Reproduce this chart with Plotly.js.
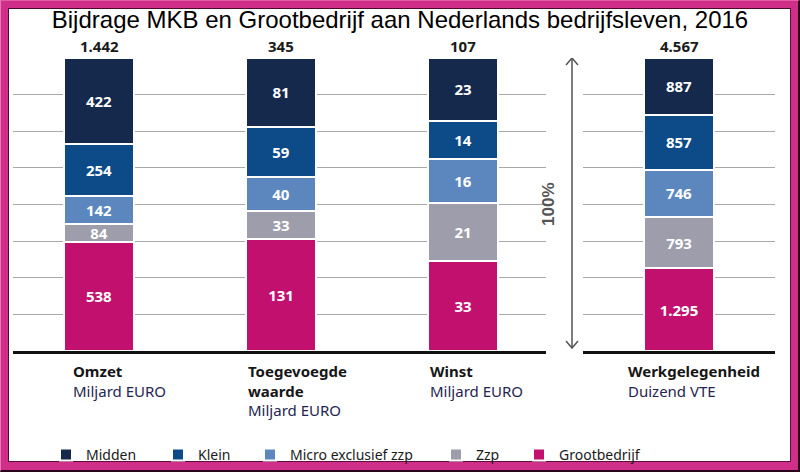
<!DOCTYPE html>
<html>
<head>
<meta charset="utf-8">
<script src="https://cdn.plot.ly/plotly-3.0.1.min.js"></script>
<style>
  html, body { margin: 0; padding: 0; width: 800px; height: 472px; overflow: hidden; background: #fff; }
  #frame { position: absolute; left: 0; top: 0; width: 800px; height: 472px; box-sizing: border-box;
    border-style: solid; border-width: 8px 9px 10px 8px; border-color: #cf2f88; background: #fff;
    box-shadow: inset 1px 1px 0 #4a0a30, inset -1px -1px 0 #5a0f3c; }
  #edge { position: absolute; left: 0; top: 0; width: 800px; height: 472px; box-sizing: border-box;
    border-left: 1px solid #e878b4; border-top: 1px solid #e35ea4;
    border-right: 2px solid #2a0418; border-bottom: 2px solid #2a0418; pointer-events: none; }
  #chart { position: absolute; left: 0; top: 0; width: 800px; height: 472px; }
</style>
</head>
<body>
<div id="frame"></div>
<div id="edge"></div>
<div id="chart"></div>
<script>
// ---- data ----
const categories = ['Omzet', 'Toegevoegde waarde', 'Winst', 'Werkgelegenheid'];
const categoryLabels = ['Omzet', 'Toegevoegde<br>waarde', 'Winst', 'Werkgelegenheid'];
const units = ['Miljard EURO', 'Miljard EURO', 'Miljard EURO', 'Duizend VTE'];
const totalLabels = ['1.442', '345', '107', '4.567'];

const seriesNames = ['Grootbedrijf', 'Zzp', 'Micro exclusief zzp', 'Klein', 'Midden'];
const grootbedrijf = [538, 131, 33, 1295];
const zzp = [84, 33, 21, 793];
const micro = [142, 40, 16, 746];
const klein = [254, 59, 14, 857];
const midden = [422, 81, 23, 887];
const seriesValues = [grootbedrijf, zzp, micro, klein, midden];

// ---- styles ----
const seriesColors = ['#c2106f', '#9d9dab', '#5b87be', '#0c4b88', '#15294d'];
const legendIds = ['legend5', 'legend4', 'legend3', 'legend2', 'legend'];
const legendLeftPx = [535, 452, 266, 174, 62];
const labelShift = [-28, -35, -35, -53];

const fmt = v => String(v).replace(/\B(?=(\d{3})+(?!\d))/g, '.');
const FONT = 'Noto Sans, Open Sans, sans-serif';

const traces = [];
seriesNames.forEach((name, i) => {
  const vals = seriesValues[i];
  const common = {
    type: 'bar',
    name: name,
    legendgroup: name,
    legend: legendIds[i],
    marker: { color: seriesColors[i], line: { color: '#ffffff', width: 2 } },
    textposition: 'inside',
    insidetextanchor: 'middle',
    textangle: 0,
    constraintext: 'none',
    textfont: { family: FONT, size: 15, color: '#ffffff', weight: 700 },
    hoverinfo: 'skip'
  };
  traces.push(Object.assign({}, common, {
    x: categories.slice(0, 3), y: vals.slice(0, 3), text: vals.slice(0, 3).map(fmt),
    xaxis: 'x', yaxis: 'y', showlegend: true
  }));
  traces.push(Object.assign({}, common, {
    x: categories.slice(3), y: vals.slice(3), text: vals.slice(3).map(fmt),
    xaxis: 'x2', yaxis: 'y', showlegend: false
  }));
});

const annotations = [];
categories.forEach((c, i) => {
  const xr = i < 3 ? 'x' : 'x2';
  annotations.push({
    xref: xr, yref: 'y', x: c, y: 100, yanchor: 'bottom', yshift: 0,
    text: '<b>' + totalLabels[i] + '</b>', showarrow: false,
    font: { family: FONT, size: 15, color: '#1a1a1a' }
  });
  annotations.push({
    xref: xr, yref: 'paper', x: c, y: -0.027, xanchor: 'left', yanchor: 'top', xshift: labelShift[i],
    align: 'left', showarrow: false,
    text: '<b>' + categoryLabels[i] + '</b><br><span style="color:#1f2550">' + units[i] + '</span>',
    font: { family: FONT, size: 15, color: '#161616' }
  });
});
annotations.push({
  xref: 'paper', yref: 'y', x: 0.7178, y: 50, text: '<b>100%</b>', textangle: -90, showarrow: false,
  font: { family: 'Liberation Sans, Arial, sans-serif', size: 17, color: '#555555' }
});

const arrowX = 0.7336;
const shapes = [
  { type: 'line', xref: 'paper', yref: 'y', x0: arrowX, x1: arrowX, y0: 1, y1: 100,
    line: { color: '#555555', width: 1.5 } },
  { type: 'path', xref: 'paper', yref: 'y', xsizemode: 'pixel', ysizemode: 'pixel',
    xanchor: arrowX, yanchor: 100, path: 'M-6,-7L0,0L6,-7', line: { color: '#555555', width: 1.5 } },
  { type: 'path', xref: 'paper', yref: 'y', xsizemode: 'pixel', ysizemode: 'pixel',
    xanchor: arrowX, yanchor: 1, path: 'M-6,7L0,0L6,7', line: { color: '#555555', width: 1.5 } }
];

const layout = {
  width: 800, height: 472,
  margin: { l: 13, r: 25, t: 58, b: 121 },
  paper_bgcolor: 'rgba(0,0,0,0)', plot_bgcolor: 'rgba(0,0,0,0)',
  barmode: 'stack', barnorm: 'percent', bargap: 0.615,
  uniformtext: { minsize: 15, mode: 'show' },
  title: {
    text: 'Bijdrage MKB en Grootbedrijf aan Nederlands bedrijfsleven, 2016',
    font: { family: 'Liberation Sans, Arial, sans-serif', size: 24, color: '#000000' },
    x: 0.5, xanchor: 'center', xref: 'container', y: 1 - 20 / 472, yanchor: 'middle', yref: 'container'
  },
  xaxis: { domain: [0, 533 / 762], type: 'category', range: [-0.4725, 2.456], showticklabels: false,
    ticks: '', showgrid: false, zeroline: false, showline: true, linecolor: '#111111', linewidth: 3, fixedrange: true },
  xaxis2: { domain: [570 / 762, 1], type: 'category', range: [-0.5275, 0.5275], anchor: 'y', showticklabels: false,
    ticks: '', showgrid: false, zeroline: false, showline: true, linecolor: '#111111', linewidth: 3, fixedrange: true },
  yaxis: { range: [0, 100], dtick: 12.5, showticklabels: false, ticks: '', showgrid: true,
    gridcolor: '#a9a9a9', gridwidth: 1, zeroline: false, showline: false, fixedrange: true },
  annotations: annotations,
  shapes: shapes,
  showlegend: true
};

legendIds.forEach((id, i) => {
  layout[id] = {
    orientation: 'h', xref: 'container', yref: 'container',
    x: (legendLeftPx[i] - 16) / 800, xanchor: 'left', y: 1 - 455 / 472, yanchor: 'middle',
    bgcolor: 'rgba(0,0,0,0)', borderwidth: 0, itemwidth: 30,
    font: { family: FONT, size: 14, color: '#1a1a1a' }
  };
});

Plotly.newPlot('chart', traces, layout, { staticPlot: true, displayModeBar: false });
</script>
</body>
</html>
